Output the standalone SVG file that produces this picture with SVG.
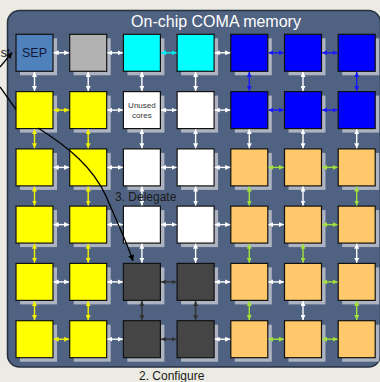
<svg xmlns="http://www.w3.org/2000/svg" width="380" height="382" viewBox="0 0 380 382">
<defs>
<style>
.sh{fill:#c4c8d0;fill-opacity:0.8}
.n{stroke:#111;stroke-width:1.2}
.c{fill:none;stroke-width:1.4}
.w{stroke:#ffffff;marker-start:url(#mw);marker-end:url(#mw)}
.y{stroke:#f2f200;marker-start:url(#my);marker-end:url(#my)}
.cy{stroke:#00f0f0;marker-start:url(#mc);marker-end:url(#mc)}
.b{stroke:#1818ff;marker-start:url(#mb);marker-end:url(#mb)}
.g{stroke:#a2e23c;marker-start:url(#mg);marker-end:url(#mg)}
.d{stroke:#333333;marker-start:url(#md);marker-end:url(#md)}
.t{font-family:"Liberation Sans",Arial,sans-serif}
</style>
<marker id="mw" viewBox="0 0 5 5" refX="5" refY="2.5" markerWidth="5" markerHeight="5" markerUnits="userSpaceOnUse" orient="auto-start-reverse"><path d="M0,0L5,2.5L0,5z" fill="#ffffff"/></marker>
<marker id="my" viewBox="0 0 5 5" refX="5" refY="2.5" markerWidth="5" markerHeight="5" markerUnits="userSpaceOnUse" orient="auto-start-reverse"><path d="M0,0L5,2.5L0,5z" fill="#f2f200"/></marker>
<marker id="mc" viewBox="0 0 5 5" refX="5" refY="2.5" markerWidth="5" markerHeight="5" markerUnits="userSpaceOnUse" orient="auto-start-reverse"><path d="M0,0L5,2.5L0,5z" fill="#00f0f0"/></marker>
<marker id="mb" viewBox="0 0 5 5" refX="5" refY="2.5" markerWidth="5" markerHeight="5" markerUnits="userSpaceOnUse" orient="auto-start-reverse"><path d="M0,0L5,2.5L0,5z" fill="#1818ff"/></marker>
<marker id="mg" viewBox="0 0 5 5" refX="5" refY="2.5" markerWidth="5" markerHeight="5" markerUnits="userSpaceOnUse" orient="auto-start-reverse"><path d="M0,0L5,2.5L0,5z" fill="#a2e23c"/></marker>
<marker id="md" viewBox="0 0 5 5" refX="5" refY="2.5" markerWidth="5" markerHeight="5" markerUnits="userSpaceOnUse" orient="auto-start-reverse"><path d="M0,0L5,2.5L0,5z" fill="#333333"/></marker>
<marker id="mk" viewBox="0 0 6 6" refX="6" refY="3" markerWidth="6" markerHeight="6" markerUnits="userSpaceOnUse" orient="auto"><path d="M0,0L6,3L0,6z" fill="#000"/></marker>
</defs>
<rect width="380" height="382" fill="#ecebe3"/>
<rect id="panel" x="7.5" y="10.5" width="373" height="356.5" rx="12" fill="#4f6281" stroke="#26303f" stroke-width="1.5"/>
<text class="t" x="216" y="27" font-size="16" fill="#ffffff" text-anchor="middle">On-chip COMA memory</text>

<g id="nodes">
<g id="n00"><rect class="sh" x="20" y="38.3" width="37" height="37"/><rect class="n" x="16" y="34.3" width="37" height="37" fill="#4f81bd"/><text class="t" x="34.5" y="57.3" font-size="12.5" fill="#10183a" text-anchor="middle">SEP</text></g>
<g id="n01"><rect class="sh" x="73.7" y="38.3" width="37" height="37"/><rect class="n" x="69.7" y="34.3" width="37" height="37" fill="#b2b2b2"/></g>
<g id="n02"><rect class="sh" x="127.4" y="38.3" width="37" height="37"/><rect class="n" x="123.4" y="34.3" width="37" height="37" fill="#00ffff"/></g>
<g id="n03"><rect class="sh" x="181.1" y="38.3" width="37" height="37"/><rect class="n" x="177.1" y="34.3" width="37" height="37" fill="#00ffff"/></g>
<g id="n04"><rect class="sh" x="234.8" y="38.3" width="37" height="37"/><rect class="n" x="230.8" y="34.3" width="37" height="37" fill="#0000ff"/></g>
<g id="n05"><rect class="sh" x="288.5" y="38.3" width="37" height="37"/><rect class="n" x="284.5" y="34.3" width="37" height="37" fill="#0000ff"/></g>
<g id="n06"><rect class="sh" x="342.2" y="38.3" width="37" height="37"/><rect class="n" x="338.2" y="34.3" width="37" height="37" fill="#0000ff"/></g>

<g id="n10"><rect class="sh" x="20" y="95.6" width="37" height="37"/><rect class="n" x="16" y="91.6" width="37" height="37" fill="#ffff00"/></g>
<g id="n11"><rect class="sh" x="73.7" y="95.6" width="37" height="37"/><rect class="n" x="69.7" y="91.6" width="37" height="37" fill="#ffff00"/></g>
<g id="n12"><rect class="sh" x="127.4" y="95.6" width="37" height="37"/><rect class="n" x="123.4" y="91.6" width="37" height="37" fill="#ffffff"/><text class="t" x="141.9" y="108" font-size="8" fill="#333333" text-anchor="middle">Unused</text><text class="t" x="141.9" y="118" font-size="8" fill="#333333" text-anchor="middle">cores</text></g>
<g id="n13"><rect class="sh" x="181.1" y="95.6" width="37" height="37"/><rect class="n" x="177.1" y="91.6" width="37" height="37" fill="#ffffff"/></g>
<g id="n14"><rect class="sh" x="234.8" y="95.6" width="37" height="37"/><rect class="n" x="230.8" y="91.6" width="37" height="37" fill="#0000ff"/></g>
<g id="n15"><rect class="sh" x="288.5" y="95.6" width="37" height="37"/><rect class="n" x="284.5" y="91.6" width="37" height="37" fill="#0000ff"/></g>
<g id="n16"><rect class="sh" x="342.2" y="95.6" width="37" height="37"/><rect class="n" x="338.2" y="91.6" width="37" height="37" fill="#0000ff"/></g>

<g id="n20"><rect class="sh" x="20" y="152.9" width="37" height="37"/><rect class="n" x="16" y="148.9" width="37" height="37" fill="#ffff00"/></g>
<g id="n21"><rect class="sh" x="73.7" y="152.9" width="37" height="37"/><rect class="n" x="69.7" y="148.9" width="37" height="37" fill="#ffff00"/></g>
<g id="n22"><rect class="sh" x="127.4" y="152.9" width="37" height="37"/><rect class="n" x="123.4" y="148.9" width="37" height="37" fill="#ffffff"/></g>
<g id="n23"><rect class="sh" x="181.1" y="152.9" width="37" height="37"/><rect class="n" x="177.1" y="148.9" width="37" height="37" fill="#ffffff"/></g>
<g id="n24"><rect class="sh" x="234.8" y="152.9" width="37" height="37"/><rect class="n" x="230.8" y="148.9" width="37" height="37" fill="#ffc96b"/></g>
<g id="n25"><rect class="sh" x="288.5" y="152.9" width="37" height="37"/><rect class="n" x="284.5" y="148.9" width="37" height="37" fill="#ffc96b"/></g>
<g id="n26"><rect class="sh" x="342.2" y="152.9" width="37" height="37"/><rect class="n" x="338.2" y="148.9" width="37" height="37" fill="#ffc96b"/></g>

<g id="n30"><rect class="sh" x="20" y="210.1" width="37" height="37"/><rect class="n" x="16" y="206.1" width="37" height="37" fill="#ffff00"/></g>
<g id="n31"><rect class="sh" x="73.7" y="210.1" width="37" height="37"/><rect class="n" x="69.7" y="206.1" width="37" height="37" fill="#ffff00"/></g>
<g id="n32"><rect class="sh" x="127.4" y="210.1" width="37" height="37"/><rect class="n" x="123.4" y="206.1" width="37" height="37" fill="#ffffff"/></g>
<g id="n33"><rect class="sh" x="181.1" y="210.1" width="37" height="37"/><rect class="n" x="177.1" y="206.1" width="37" height="37" fill="#ffffff"/></g>
<g id="n34"><rect class="sh" x="234.8" y="210.1" width="37" height="37"/><rect class="n" x="230.8" y="206.1" width="37" height="37" fill="#ffc96b"/></g>
<g id="n35"><rect class="sh" x="288.5" y="210.1" width="37" height="37"/><rect class="n" x="284.5" y="206.1" width="37" height="37" fill="#ffc96b"/></g>
<g id="n36"><rect class="sh" x="342.2" y="210.1" width="37" height="37"/><rect class="n" x="338.2" y="206.1" width="37" height="37" fill="#ffc96b"/></g>

<g id="n40"><rect class="sh" x="20" y="267.4" width="37" height="37"/><rect class="n" x="16" y="263.4" width="37" height="37" fill="#ffff00"/></g>
<g id="n41"><rect class="sh" x="73.7" y="267.4" width="37" height="37"/><rect class="n" x="69.7" y="263.4" width="37" height="37" fill="#ffff00"/></g>
<g id="n42"><rect class="sh" x="127.4" y="267.4" width="37" height="37"/><rect class="n" x="123.4" y="263.4" width="37" height="37" fill="#454545"/></g>
<g id="n43"><rect class="sh" x="181.1" y="267.4" width="37" height="37"/><rect class="n" x="177.1" y="263.4" width="37" height="37" fill="#454545"/></g>
<g id="n44"><rect class="sh" x="234.8" y="267.4" width="37" height="37"/><rect class="n" x="230.8" y="263.4" width="37" height="37" fill="#ffc96b"/></g>
<g id="n45"><rect class="sh" x="288.5" y="267.4" width="37" height="37"/><rect class="n" x="284.5" y="263.4" width="37" height="37" fill="#ffc96b"/></g>
<g id="n46"><rect class="sh" x="342.2" y="267.4" width="37" height="37"/><rect class="n" x="338.2" y="263.4" width="37" height="37" fill="#ffc96b"/></g>

<g id="n50"><rect class="sh" x="20" y="324.7" width="37" height="37"/><rect class="n" x="16" y="320.7" width="37" height="37" fill="#ffff00"/></g>
<g id="n51"><rect class="sh" x="73.7" y="324.7" width="37" height="37"/><rect class="n" x="69.7" y="320.7" width="37" height="37" fill="#ffff00"/></g>
<g id="n52"><rect class="sh" x="127.4" y="324.7" width="37" height="37"/><rect class="n" x="123.4" y="320.7" width="37" height="37" fill="#454545"/></g>
<g id="n53"><rect class="sh" x="181.1" y="324.7" width="37" height="37"/><rect class="n" x="177.1" y="320.7" width="37" height="37" fill="#454545"/></g>
<g id="n54"><rect class="sh" x="234.8" y="324.7" width="37" height="37"/><rect class="n" x="230.8" y="320.7" width="37" height="37" fill="#ffc96b"/></g>
<g id="n55"><rect class="sh" x="288.5" y="324.7" width="37" height="37"/><rect class="n" x="284.5" y="320.7" width="37" height="37" fill="#ffc96b"/></g>
<g id="n56"><rect class="sh" x="342.2" y="324.7" width="37" height="37"/><rect class="n" x="338.2" y="320.7" width="37" height="37" fill="#ffc96b"/></g>
</g>

<g id="connectors">
<path class="c w" d="M53.6,52.8H69.1"/><path class="c w" d="M107.3,52.8H122.8"/><path class="c cy" d="M161,52.8H176.5"/><path class="c w" d="M214.7,52.8H230.2"/><path class="c b" d="M268.4,52.8H283.9"/><path class="c b" d="M322.1,52.8H337.6"/>
<path class="c y" d="M53.6,110.1H69.1"/><path class="c w" d="M107.3,110.1H122.8"/><path class="c w" d="M161,110.1H176.5"/><path class="c w" d="M214.7,110.1H230.2"/><path class="c b" d="M268.4,110.1H283.9"/><path class="c b" d="M322.1,110.1H337.6"/>
<path class="c w" d="M53.6,167.4H69.1"/><path class="c w" d="M107.3,167.4H122.8"/><path class="c w" d="M161,167.4H176.5"/><path class="c w" d="M214.7,167.4H230.2"/><path class="c g" d="M268.4,167.4H283.9"/><path class="c g" d="M322.1,167.4H337.6"/>
<path class="c w" d="M53.6,224.6H69.1"/><path class="c w" d="M107.3,224.6H122.8"/><path class="c w" d="M161,224.6H176.5"/><path class="c w" d="M214.7,224.6H230.2"/><path class="c w" d="M268.4,224.6H283.9"/><path class="c g" d="M322.1,224.6H337.6"/>
<path class="c w" d="M53.6,281.9H69.1"/><path class="c w" d="M107.3,281.9H122.8"/><path class="c d" d="M161,281.9H176.5"/><path class="c w" d="M214.7,281.9H230.2"/><path class="c w" d="M268.4,281.9H283.9"/><path class="c g" d="M322.1,281.9H337.6"/>
<path class="c y" d="M53.6,339.2H69.1"/><path class="c w" d="M107.3,339.2H122.8"/><path class="c d" d="M161,339.2H176.5"/><path class="c w" d="M214.7,339.2H230.2"/><path class="c g" d="M268.4,339.2H283.9"/><path class="c g" d="M322.1,339.2H337.6"/>
<path class="c w" d="M34.5,71.9V91"/><path class="c w" d="M88.2,71.9V91"/><path class="c w" d="M141.9,71.9V91"/><path class="c w" d="M195.6,71.9V91"/><path class="c b" d="M249.3,71.9V91"/><path class="c w" d="M303,71.9V91"/><path class="c b" d="M356.7,71.9V91"/>
<path class="c y" d="M34.5,129.2V148.3"/><path class="c y" d="M88.2,129.2V148.3"/><path class="c w" d="M141.9,129.2V148.3"/><path class="c w" d="M195.6,129.2V148.3"/><path class="c w" d="M249.3,129.2V148.3"/><path class="c w" d="M303,129.2V148.3"/><path class="c w" d="M356.7,129.2V148.3"/>
<path class="c y" d="M34.5,186.5V205.5"/><path class="c y" d="M88.2,186.5V205.5"/><path class="c w" d="M141.9,186.5V205.5"/><path class="c w" d="M195.6,186.5V205.5"/><path class="c g" d="M249.3,186.5V205.5"/><path class="c w" d="M303,186.5V205.5"/><path class="c g" d="M356.7,186.5V205.5"/>
<path class="c y" d="M34.5,243.7V262.8"/><path class="c y" d="M88.2,243.7V262.8"/><path class="c w" d="M141.9,243.7V262.8"/><path class="c w" d="M195.6,243.7V262.8"/><path class="c g" d="M249.3,243.7V262.8"/><path class="c g" d="M303,243.7V262.8"/><path class="c w" d="M356.7,243.7V262.8"/>
<path class="c y" d="M34.5,301V320.1"/><path class="c y" d="M88.2,301V320.1"/><path class="c d" d="M141.9,301V320.1"/><path class="c d" d="M195.6,301V320.1"/><path class="c g" d="M249.3,301V320.1"/><path class="c w" d="M303,301V320.1"/><path class="c g" d="M356.7,301V320.1"/>
<path d="M0,67L12,52.5" fill="none" stroke="#000" stroke-width="1.3" marker-end="url(#mk)"/>
<path d="M0,87L16,109.5" fill="none" stroke="#000" stroke-width="1.3"/>
<path d="M38,128C70,148 93,168 106,196C116,220 126,240 133,261" fill="none" stroke="#000" stroke-width="1.3" marker-end="url(#mk)"/>
</g>

<text class="t" x="10" y="57" font-size="12" fill="#111111" text-anchor="end">st</text>
<text class="t" x="115" y="201" font-size="12" fill="#1a1a1a">3. Delegate</text>
<text class="t" x="139" y="380" font-size="12" fill="#1a1a1a">2. Configure</text>
</svg>
